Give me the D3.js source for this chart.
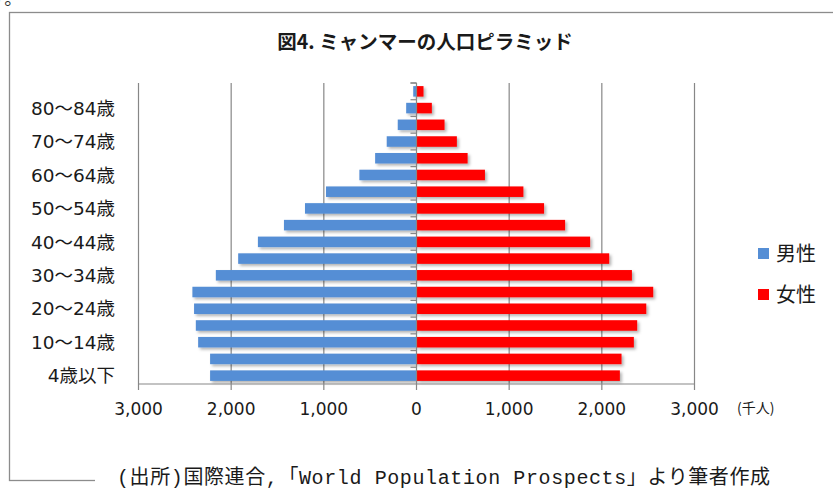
<html>
<head>
  <meta charset="utf-8" />
  <title>ミャンマーの人口ピラミッド</title>
  <style type="text/css">
    body { margin: 0; background: white; }
    svg { display: block; }
  </style>
  <script src="https://cdn.jsdelivr.net/npm/d3@7/dist/d3.min.js" charset="utf-8"></script>
</head>
<body>
  <svg id="chart" width="833" height="490" style="background:white;"></svg>
<script>
  // age groups, bottom (youngest) to top
  var ageGroups = ["4歳以下", "5～9歳", "10～14歳", "15～19歳", "20～24歳", "25～29歳",
    "30～34歳", "35～39歳", "40～44歳", "45～49歳", "50～54歳", "55～59歳",
    "60～64歳", "65～69歳", "70～74歳", "75～79歳", "80～84歳", "85歳以上"];
  // thousands of people
  var male = [2222, 2222, 2351, 2376, 2395, 2413, 2160, 1919, 1706, 1425,
    1198, 971, 611, 441, 316, 197, 106, 30];
  var female = [2200, 2218, 2351, 2387, 2485, 2560, 2330, 2085, 1879, 1609,
    1382, 1159, 744, 557, 441, 308, 171, 81];
  var xTicks = [-3000, -2000, -1000, 0, 1000, 2000, 3000];
  var seriesNames = ["男性", "女性"];
  var seriesColors = ["#558ed5", "#ff0000"];

  var svg = d3.select("#chart");
  var jp = "'Noto Sans CJK JP', sans-serif";
  var num = "'DejaVu Sans', 'Noto Sans CJK JP', sans-serif";
  var grey = "#878787";

  var x = d3.scaleLinear().domain([-3000, 3000]).range([138, 694]);
  var y = d3.scaleBand().domain(ageGroups.slice().reverse()).range([83, 384])
    .paddingInner(0.37).paddingOuter(0.185);

  var defs = svg.append("defs");
  var f = defs.append("filter").attr("id", "shadow")
    .attr("x", "-5%").attr("y", "-30%").attr("width", "115%").attr("height", "190%");
  f.append("feDropShadow").attr("dx", 2).attr("dy", 2).attr("stdDeviation", 1.4)
    .attr("flood-color", "#000").attr("flood-opacity", 0.3);

  // stray text from the page above
  svg.append("text").attr("x", -12).attr("y", 5).text("す。")
    .style("font-family", jp).style("font-size", "18px").style("fill", "#333");

  // chart frame
  svg.append("rect").attr("x", 9.5).attr("y", 12.5).attr("width", 900).attr("height", 468)
    .style("fill", "white").style("stroke", "#8c8c8c").style("stroke-width", 1.3);

  svg.append("text").attr("x", 425).attr("y", 49).attr("text-anchor", "middle")
    .text("図4. ミャンマーの人口ピラミッド")
    .style("font-family", jp).style("font-size", "19.5px").style("font-weight", "bold")
    .style("fill", "#1a1a1a");

  // vertical gridlines
  svg.append("g").selectAll("line").data(xTicks.filter(function (d) { return d !== 0 }))
    .enter().append("line")
    .attr("x1", function (d) { return x(d) + 0.5 }).attr("x2", function (d) { return x(d) + 0.5 })
    .attr("y1", 83).attr("y2", 384)
    .style("stroke", grey).style("stroke-width", 1.2);

  // bars
  var rows = ageGroups.map(function (a, i) { return { age: a, m: male[i], f: female[i] } });
  svg.append("g").attr("filter", "url(#shadow)").selectAll("rect.m").data(rows).enter()
    .append("rect").attr("class", "m")
    .attr("x", function (d) { return x(-d.m) })
    .attr("y", function (d) { return y(d.age) })
    .attr("width", function (d) { return x(0) - x(-d.m) })
    .attr("height", y.bandwidth())
    .style("fill", seriesColors[0]);
  svg.append("g").attr("filter", "url(#shadow)").selectAll("rect.f").data(rows).enter()
    .append("rect").attr("class", "f")
    .attr("x", x(0) + 1)
    .attr("y", function (d) { return y(d.age) })
    .attr("width", function (d) { return x(d.f) - x(0) - 1 })
    .attr("height", y.bandwidth())
    .style("fill", seriesColors[1]);

  // category axis at zero
  var ya = svg.append("g").attr("transform", "translate(" + (x(0) + 0.5) + ",0)");
  ya.append("line").attr("y1", 83).attr("y2", 384).style("stroke", grey).style("stroke-width", 1.2);
  var bounds = ageGroups.map(function (a) { return y(a) - y.step() * y.paddingInner() / 2 });
  bounds.push(83);
  ya.selectAll("line.t").data(bounds).enter().append("line").attr("class", "t")
    .attr("x1", -6).attr("x2", 0)
    .attr("y1", function (d) { return d }).attr("y2", function (d) { return d })
    .style("stroke", grey).style("stroke-width", 1.2);

  // category labels (every other one)
  svg.append("g").selectAll("text").data(ageGroups.filter(function (d, i) { return i % 2 === 0 }))
    .enter().append("text")
    .attr("x", 115).attr("y", function (d) { return y(d) + y.bandwidth() / 2 })
    .attr("dy", "0.36em").attr("text-anchor", "end")
    .text(function (d) { return d })
    .style("font-family", num).style("font-size", "18.5px").style("fill", "#1a1a1a");

  // value axis
  var xAxis = d3.axisBottom(x).tickValues(xTicks).tickSize(6).tickPadding(13)
    .tickFormat(function (d) { return d3.format(",")(Math.abs(d)) });
  var xa = svg.append("g").attr("transform", "translate(0,384)").call(xAxis);
  xa.select(".domain").remove();
  xa.insert("line", ":first-child").attr("x1", 138).attr("x2", 695)
    .style("stroke", grey).style("stroke-width", 1.2);
  xa.selectAll(".tick line").style("stroke", grey).style("stroke-width", 1.2);
  xa.selectAll(".tick text").style("font-family", num).style("font-size", "17px").style("fill", "#1a1a1a");
  svg.append("text").attr("x", 737).attr("y", 413).text("(千人)")
    .style("font-family", jp).style("font-size", "14px").style("fill", "#1a1a1a");

  // legend
  var lg = svg.append("g").selectAll("g").data(seriesNames).enter().append("g")
    .attr("transform", function (d, i) { return "translate(758," + (248 + i * 41) + ")" });
  lg.append("rect").attr("width", 11).attr("height", 11)
    .style("fill", function (d, i) { return seriesColors[i] });
  lg.append("text").attr("x", 18).attr("y", 5.5).attr("dy", "0.36em").text(function (d) { return d })
    .style("font-family", jp).style("font-size", "20px").style("fill", "#1a1a1a");

  // source note
  svg.append("rect").attr("x", 95).attr("y", 462).attr("width", 740).attr("height", 30).style("fill", "white");
  svg.append("text").attr("x", 117).attr("y", 484)
    .attr("textLength", 653).attr("lengthAdjust", "spacing")
    .text("(出所)国際連合,「World Population Prospects」より筆者作成")
    .style("font-family", "'Liberation Mono', 'Noto Sans CJK JP', monospace")
    .style("font-size", "20px").style("fill", "#1a1a1a");
</script>
</body>
</html>
